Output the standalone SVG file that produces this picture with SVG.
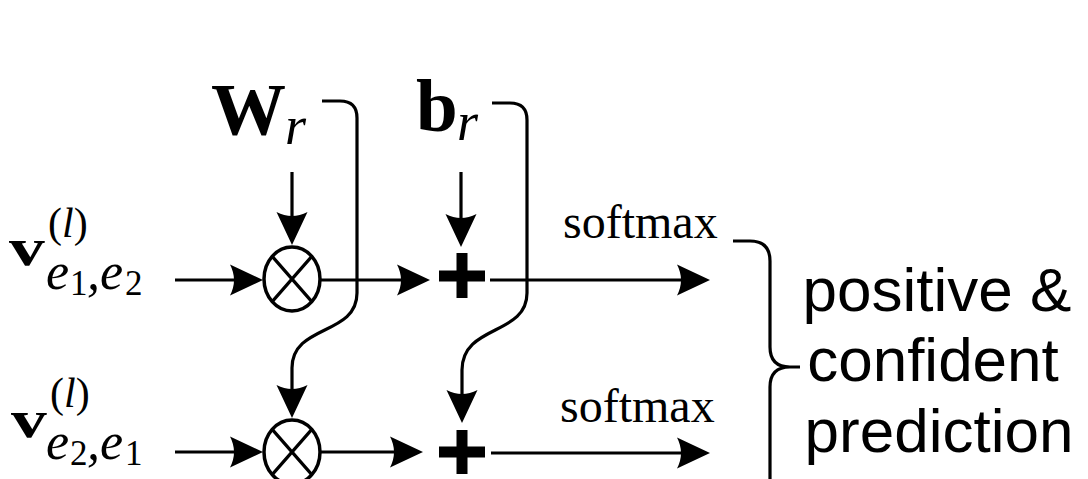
<svg xmlns="http://www.w3.org/2000/svg" width="1088" height="479" viewBox="0 0 1088 479">
  <style>
    .serif { font-family: "Liberation Serif", "Times New Roman", serif; fill: #000; }
    .sans { font-family: "Liberation Sans", Arial, sans-serif; fill: #000; }
    .bold { font-weight: bold; }
    .it { font-style: italic; }
    .wire { fill: none; stroke: #000; stroke-width: 3.2; }
    .arrow { marker-end: url(#head); }
    .op { fill: #fff; stroke: #000; stroke-width: 3.5; }
    .cross { stroke: #000; stroke-width: 3.2; }
    .plus { stroke: #000; stroke-width: 11; fill: none; }
  </style>
  <defs>
    <!-- filled arrowhead with a slightly concave back; tip sits 20px past the path end -->
    <marker id="head" markerUnits="userSpaceOnUse" markerWidth="36" markerHeight="34"
            viewBox="-34 -17 36 34" refX="-20" refY="0" orient="auto" overflow="visible">
      <path d="M0,0 L-33,-15.5 Q-25,0 -33,15.5 Z" fill="#000"/>
    </marker>
  </defs>

  <rect width="1088" height="479" fill="#fff"/>

  <!-- connectors -->
  <g id="connectors">
    <path class="wire arrow" d="M175 280 H243"/>
    <path class="wire arrow" d="M175 452 H243"/>
    <path class="wire arrow" d="M292 172 V225"/>
    <path class="wire arrow" d="M322 101 H340 Q357 101 357 118 V293 C357 336 292 324 292 368 V398"/>
    <path class="wire arrow" d="M321 280 H410"/>
    <path class="wire arrow" d="M321 452 H403"/>
    <path class="wire arrow" d="M461 172 V227"/>
    <path class="wire arrow" d="M492 103 H510 Q527 103 527 120 V293 C527 336 462 324 462 370 V403"/>
    <path class="wire arrow" d="M490 280 H690"/>
    <path class="wire arrow" d="M491 453 H690"/>
    <text class="serif" x="563" y="238" font-size="48">softmax</text>
    <text class="serif" x="560" y="422" font-size="48">softmax</text>
  </g>

  <!-- input vector, first ordering -->
  <g id="node-v12">
    <text class="serif bold" font-size="53" transform="translate(9,265) scale(1.35,1)">v</text>
    <text class="serif" x="48" y="237" font-size="42">(<tspan class="it">l</tspan>)</text>
    <text class="serif it" x="46" y="289" font-size="52">e</text>
    <text class="serif" x="70" y="295" font-size="35">1</text>
    <text class="serif it" x="87" y="289" font-size="52">,</text>
    <text class="serif it" x="100" y="289" font-size="52">e</text>
    <text class="serif" x="125" y="295" font-size="35">2</text>
  </g>

  <!-- input vector, reversed ordering -->
  <g id="node-v21">
    <text class="serif bold" font-size="53" transform="translate(11,437) scale(1.35,1)">v</text>
    <text class="serif" x="50" y="407" font-size="42">(<tspan class="it">l</tspan>)</text>
    <text class="serif it" x="46" y="459" font-size="52">e</text>
    <text class="serif" x="70" y="465" font-size="35">2</text>
    <text class="serif it" x="87" y="459" font-size="52">,</text>
    <text class="serif it" x="100" y="459" font-size="52">e</text>
    <text class="serif" x="125" y="465" font-size="35">1</text>
  </g>

  <!-- shared weight matrix -->
  <g id="node-Wr">
    <text class="serif bold" x="211" y="135" font-size="75">W</text>
    <text class="serif it" x="285" y="144" font-size="54">r</text>
  </g>

  <!-- shared bias -->
  <g id="node-br">
    <text class="serif bold" x="416" y="131" font-size="75">b</text>
    <text class="serif it" x="457" y="140" font-size="54">r</text>
  </g>

  <!-- multiplication nodes -->
  <g id="node-mul1">
    <ellipse class="op" cx="292" cy="279" rx="28" ry="32"/>
    <path class="cross" d="M272.2 256.4 L311.8 301.6 M311.8 256.4 L272.2 301.6"/>
  </g>
  <g id="node-mul2">
    <ellipse class="op" cx="292" cy="452" rx="28" ry="32"/>
    <path class="cross" d="M272.2 429.4 L311.8 474.6 M311.8 429.4 L272.2 474.6"/>
  </g>

  <!-- addition nodes -->
  <g id="node-add1">
    <path class="plus" d="M439 276 H485 M462 253 V298"/>
  </g>
  <g id="node-add2">
    <path class="plus" d="M439 452 H485 M462 430 V474"/>
  </g>

  <!-- joint objective -->
  <g id="node-objective">
    <path class="wire" stroke-width="3.5" d="M733 241 H750 Q770 241 770 261 V347 Q770 367 790 367 H800 M790 367 Q770 367 770 387 V490"/>
    <text class="sans" x="937" y="311" font-size="62" text-anchor="middle">positive &amp;</text>
    <text class="sans" x="933" y="381" font-size="62" text-anchor="middle">confident</text>
    <text class="sans" x="939" y="452" font-size="62" text-anchor="middle">prediction</text>
  </g>
</svg>
